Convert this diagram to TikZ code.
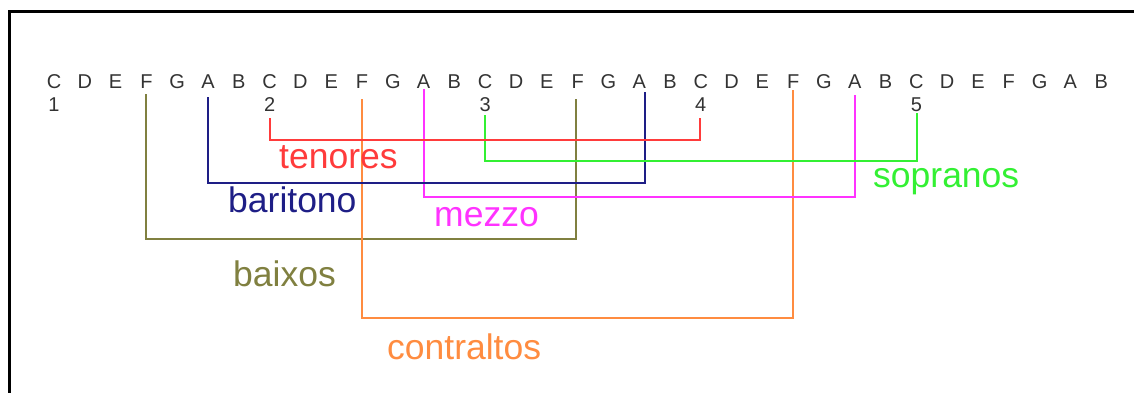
\documentclass[tikz,border=0pt]{standalone}
\usepackage{fontspec}
\setmainfont{Liberation Sans}
\usetikzlibrary{calc}
\definecolor{tencol}{HTML}{FF3B3B}
\definecolor{sopcol}{HTML}{33F033}
\definecolor{barcol}{HTML}{1E1E86}
\definecolor{mezcol}{HTML}{FF33FF}
\definecolor{baicol}{HTML}{808040}
\definecolor{concol}{HTML}{FF8C40}
\begin{document}
\begin{tikzpicture}[x=1pt,y=-1pt,
  note/.style={anchor=base,inner sep=0pt,font=\fontsize{20}{20}\selectfont,text=black!80},
  voice/.style={line width=2pt},
  lbl/.style={anchor=base west,inner sep=0pt,font=\fontsize{35.5}{36}\selectfont}]
\useasboundingbox (0,0) rectangle (1134,393);
\clip (0,0) rectangle (1134,393);
% frame
\draw[line width=3pt] (9,11.5) rectangle (1160,420);
% scale of notes
\foreach \n [count=\i from 0] in {C,D,E,F,G,A,B,C,D,E,F,G,A,B,C,D,E,F,G,A,B,C,D,E,F,G,A,B,C,D,E,F,G,A,B}
  \node[note] (n\i) at ({54+30.8*\i},89) {\n};
% octave numbers under each C
\foreach \k in {1,...,5}{
  \pgfmathtruncatemacro\j{7*(\k-1)}
  \node[note] (c\k) at (n\j.base |- 0,112) {\k};
}
% voice ranges
\draw[voice,baicol] ($(n3.south)+(0,5)$) |- ($(n17.south)+(-2,150)$) -- ($(n17.south)+(-2,10)$);
\draw[voice,concol] ($(n10.south)+(0,10)$) |- ($(n24.south)+(0,229)$) -- ($(n24.south)+(0,1)$);
\draw[voice,mezcol] ($(n12.south)+(0,0)$) |- ($(n26.south)+(0,108)$) -- ($(n26.south)+(0,6)$);
\draw[voice,barcol] ($(n5.south)+(0,8)$) |- ($(n19.south)+(6,94)$) -- ($(n19.south)+(6,3)$);
\draw[voice,sopcol] ($(c3.south)+(0,3)$) |- ($(c5.south)+(1,49)$) -- ($(c5.south)+(1,1)$);
\draw[voice,tencol] ($(c2.south)+(0,6)$) |- ($(c4.south)+(-1,28)$) -- ($(c4.south)+(-1,6)$);
% labels
\node[lbl,text=tencol] (ltn) at (279,168) {tenores};
\node[lbl,text=barcol] (lbr) at (228,212) {baritono};
\node[lbl,text=mezcol] (lmz) at (434,226) {mezzo};
\node[lbl,text=baicol] (lbx) at (233,286) {baixos};
\node[lbl,text=concol] (lct) at (387,359) {contraltos};
\node[lbl,text=sopcol] (lsp) at (873,187) {sopranos};
\end{tikzpicture}
\end{document}
